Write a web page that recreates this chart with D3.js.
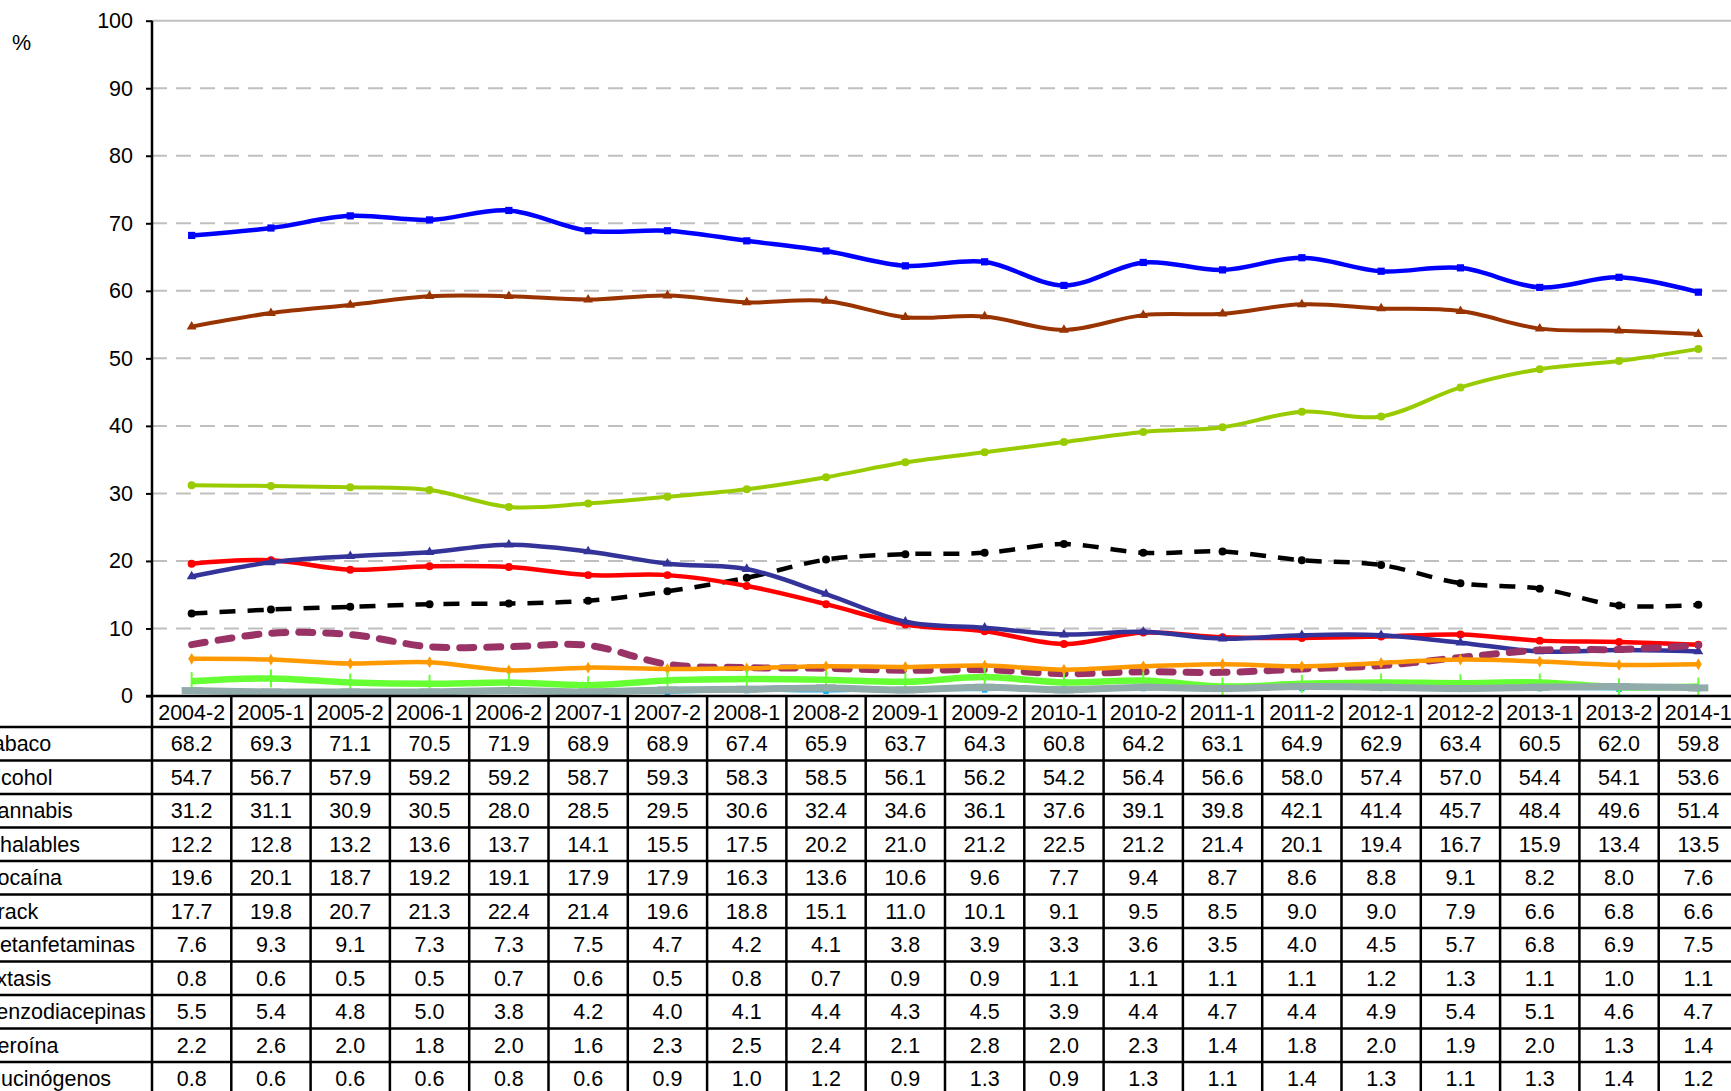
<!DOCTYPE html>
<html>
<head>
  <style>
    body {
      margin: 0;
      background: #fff;
    }
    svg {
      display: block;
      font-family: "Liberation Sans", Arial, sans-serif;
    }
    .grid {
      stroke: #c0c0c0;
      stroke-width: 2px;
      stroke-dasharray: 15, 9;
    }
    .rule {
      stroke: #000;
      stroke-width: 2.5px;
    }
    .cell {
      font-size: 21.5px;
      fill: #000;
    }
    .series {
      fill: none;
    }
  </style>
</head>
<body>
  <script src="https://d3js.org/d3.v7.min.js"></script>
  <script>
    var periods = ["2004-2", "2005-1", "2005-2", "2006-1", "2006-2", "2007-1", "2007-2", "2008-1", "2008-2", "2009-1",
                   "2009-2", "2010-1", "2010-2", "2011-1", "2011-2", "2012-1", "2012-2", "2013-1", "2013-2", "2014-1"];

    var tabaco          = [68.2, 69.3, 71.1, 70.5, 71.9, 68.9, 68.9, 67.4, 65.9, 63.7, 64.3, 60.8, 64.2, 63.1, 64.9, 62.9, 63.4, 60.5, 62.0, 59.8];
    var alcohol         = [54.7, 56.7, 57.9, 59.2, 59.2, 58.7, 59.3, 58.3, 58.5, 56.1, 56.2, 54.2, 56.4, 56.6, 58.0, 57.4, 57.0, 54.4, 54.1, 53.6];
    var cannabis        = [31.2, 31.1, 30.9, 30.5, 28.0, 28.5, 29.5, 30.6, 32.4, 34.6, 36.1, 37.6, 39.1, 39.8, 42.1, 41.4, 45.7, 48.4, 49.6, 51.4];
    var inhalables      = [12.2, 12.8, 13.2, 13.6, 13.7, 14.1, 15.5, 17.5, 20.2, 21.0, 21.2, 22.5, 21.2, 21.4, 20.1, 19.4, 16.7, 15.9, 13.4, 13.5];
    var cocaina         = [19.6, 20.1, 18.7, 19.2, 19.1, 17.9, 17.9, 16.3, 13.6, 10.6, 9.6, 7.7, 9.4, 8.7, 8.6, 8.8, 9.1, 8.2, 8.0, 7.6];
    var crack           = [17.7, 19.8, 20.7, 21.3, 22.4, 21.4, 19.6, 18.8, 15.1, 11.0, 10.1, 9.1, 9.5, 8.5, 9.0, 9.0, 7.9, 6.6, 6.8, 6.6];
    var metanfetaminas  = [7.6, 9.3, 9.1, 7.3, 7.3, 7.5, 4.7, 4.2, 4.1, 3.8, 3.9, 3.3, 3.6, 3.5, 4.0, 4.5, 5.7, 6.8, 6.9, 7.5];
    var extasis         = [0.8, 0.6, 0.5, 0.5, 0.7, 0.6, 0.5, 0.8, 0.7, 0.9, 0.9, 1.1, 1.1, 1.1, 1.1, 1.2, 1.3, 1.1, 1.0, 1.1];
    var benzodiacepinas = [5.5, 5.4, 4.8, 5.0, 3.8, 4.2, 4.0, 4.1, 4.4, 4.3, 4.5, 3.9, 4.4, 4.7, 4.4, 4.9, 5.4, 5.1, 4.6, 4.7];
    var heroina         = [2.2, 2.6, 2.0, 1.8, 2.0, 1.6, 2.3, 2.5, 2.4, 2.1, 2.8, 2.0, 2.3, 1.4, 1.8, 2.0, 1.9, 2.0, 1.3, 1.4];
    var alucinogenos    = [0.8, 0.6, 0.6, 0.6, 0.8, 0.6, 0.9, 1.0, 1.2, 0.9, 1.3, 0.9, 1.3, 1.1, 1.4, 1.3, 1.1, 1.3, 1.4, 1.2];

    var yTicks = [0, 10, 20, 30, 40, 50, 60, 70, 80, 90, 100];

    var series = [
      {name: "Tabaco", values: tabaco},
      {name: "Alcohol", values: alcohol},
      {name: "Cannabis", values: cannabis},
      {name: "Inhalables", values: inhalables},
      {name: "Cocaína", values: cocaina},
      {name: "Crack", values: crack},
      {name: "Metanfetaminas", values: metanfetaminas},
      {name: "Éxtasis", values: extasis},
      {name: "Benzodiacepinas", values: benzodiacepinas},
      {name: "Heroína", values: heroina},
      {name: "Alucinógenos", values: alucinogenos}
    ];

    // look of each line, roughly the Excel defaults of the original
    var styles = {
      "Tabaco":          {color: "#0000ff", width: 4.5, marker: "square"},
      "Alcohol":         {color: "#993300", width: 4, marker: "triangle"},
      "Cannabis":        {color: "#99cc00", width: 4, marker: "circle"},
      "Inhalables":      {color: "#000000", width: 4.5, marker: "circle", dash: "16,12"},
      "Cocaína":         {color: "#ff0000", width: 4.5, marker: "circle"},
      "Crack":           {color: "#333399", width: 4.5, marker: "triangle"},
      "Metanfetaminas":  {color: "#993366", width: 7, marker: "none", dash: "14,13", cap: "round"},
      "Éxtasis":         {color: "#1ab0f0", width: 2.5, marker: "square-small"},
      "Benzodiacepinas": {color: "#ff9900", width: 4.5, marker: "diamond"},
      "Heroína":         {color: "#66ff33", width: 6.5, marker: "vbar"},
      "Alucinógenos":    {color: "#91aaaa", width: 7, marker: "hbar"}
    };

    var width = 1731, height = 1091;
    var left = 152, colW = 79.3;
    var plotTop = 20.7, base = 696;
    var headH = 31, rowH = 33.5;

    var svg = d3.select("body").append("svg")
        .attr("width", width)
        .attr("height", height);

    var x = d3.scaleBand()
        .domain(periods)
        .range([left, left + colW * periods.length]);

    var y = d3.scaleLinear()
        .domain([0, 100])
        .range([base, plotTop]);

    var cx = function(i) { return x(periods[i]) + x.bandwidth() / 2; };

    // gridlines, the top one is solid
    svg.append("g").selectAll("line")
        .data(yTicks.filter(d => d > 0))
      .enter().append("line")
        .attr("class", d => d === 100 ? null : "grid")
        .attr("x1", left).attr("x2", width)
        .attr("y1", d => y(d)).attr("y2", d => y(d))
        .attr("stroke", "#c0c0c0")
        .attr("stroke-width", 2);

    // y axis
    var yAxis = svg.append("g")
        .attr("transform", "translate(" + left + ",0)")
        .call(d3.axisLeft(y).tickValues(yTicks).tickSize(6).tickSizeOuter(0).tickPadding(13));
    yAxis.select(".domain").remove();
    yAxis.selectAll(".tick line").attr("stroke", "#000").attr("stroke-width", 2);
    yAxis.selectAll(".tick text")
        .attr("font-size", 21.5)
        .attr("font-family", "Liberation Sans, Arial, sans-serif")
        .attr("fill", "#000");

    svg.append("text")
        .attr("class", "cell")
        .attr("x", 12)
        .attr("y", 50)
        .text("%");

    // lines
    var line = d3.line()
        .x((d, i) => cx(i))
        .y(d => y(d))
        .curve(d3.curveCardinal.tension(0));

    var symbols = {
      "square": d3.symbol(d3.symbolSquare, 52),
      "square-small": d3.symbol(d3.symbolSquare, 30),
      "triangle": d3.symbol(d3.symbolTriangle, 42),
      "circle": d3.symbol(d3.symbolCircle, 50),
      "diamond": d3.symbol(d3.symbolDiamond, 40)
    };

    var g = svg.selectAll(".serie")
        .data(series)
      .enter().append("g")
        .attr("class", "serie");

    g.append("path")
        .attr("class", "series")
        .attr("stroke", d => styles[d.name].color)
        .attr("stroke-width", d => styles[d.name].width)
        .attr("stroke-dasharray", d => styles[d.name].dash || null)
        .attr("stroke-linecap", d => styles[d.name].cap || "butt")
        .attr("stroke-linejoin", "round")
        .attr("d", d => line(d.values));

    g.each(function(s) {
      var st = styles[s.name], sel = d3.select(this);
      if (st.marker === "none") return;
      var pts = sel.selectAll(".pt")
          .data(s.values)
        .enter();
      if (st.marker === "vbar") {
        pts.append("rect")
            .attr("x", (d, i) => cx(i) - 1)
            .attr("y", d => y(d) - 9)
            .attr("width", 2)
            .attr("height", 18)
            .attr("fill", st.color);
      } else if (st.marker === "hbar") {
        pts.append("rect")
            .attr("x", (d, i) => cx(i) - 10)
            .attr("y", d => y(d) - 3.5)
            .attr("width", 20)
            .attr("height", 7)
            .attr("fill", st.color);
      } else {
        pts.append("path")
            .attr("transform", (d, i) => "translate(" + cx(i) + "," + y(d) + ")")
            .attr("d", symbols[st.marker])
            .attr("fill", st.color);
      }
    });

    // data table
    var table = svg.append("g");
    var rowTop = i => base + headH + i * rowH;

    periods.forEach(function(p, j) {
      table.append("text")
          .attr("class", "cell")
          .attr("text-anchor", "middle")
          .attr("x", cx(j))
          .attr("y", base + headH / 2 + 8)
          .text(p);
    });

    series.forEach(function(s, i) {
      var yc = rowTop(i) + rowH / 2 + 7.5;
      table.append("text")
          .attr("class", "cell")
          .attr("x", -18)
          .attr("y", yc)
          .text(s.name);
      s.values.forEach(function(v, j) {
        table.append("text")
            .attr("class", "cell")
            .attr("text-anchor", "middle")
            .attr("x", cx(j))
            .attr("y", yc)
            .text(v.toFixed(1));
      });
    });

    // table rules
    table.append("line")
        .attr("class", "rule")
        .attr("x1", left - 6).attr("x2", width)
        .attr("y1", base).attr("y2", base);
    d3.range(series.length + 1).forEach(function(i) {
      table.append("line")
          .attr("class", "rule")
          .attr("x1", 0).attr("x2", width)
          .attr("y1", rowTop(i)).attr("y2", rowTop(i));
    });
    d3.range(periods.length + 1).forEach(function(j) {
      var xx = left + j * colW;
      table.append("line")
          .attr("class", "rule")
          .attr("x1", xx).attr("x2", xx)
          .attr("y1", j === 0 ? plotTop : base).attr("y2", height);
    });
  </script>
</body>
</html>
